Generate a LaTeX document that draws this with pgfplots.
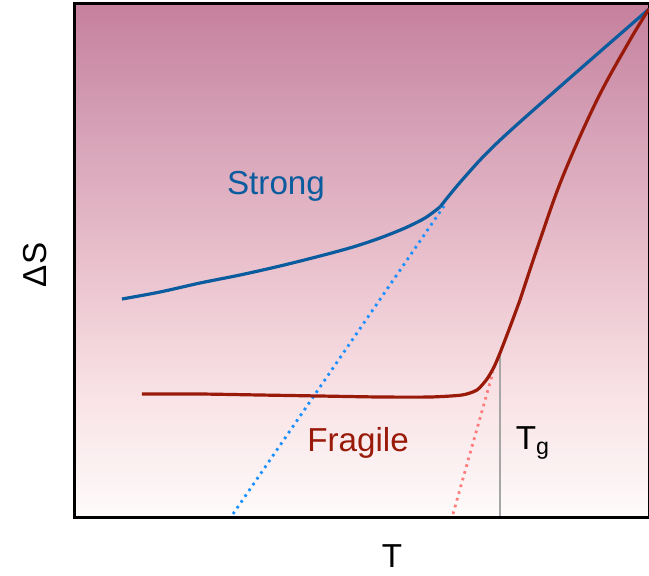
\documentclass[border=0pt]{standalone}
\usepackage{pgfplots}
\pgfplotsset{compat=1.18}
\usepackage{fontspec}
\setmainfont{Liberation Sans}
\definecolor{strongblue}{HTML}{0B5C9E}
\definecolor{dotblue}{HTML}{1A90FF}
\definecolor{fragred}{HTML}{9A1A0A}
\definecolor{dotred}{HTML}{FF7B7B}
\definecolor{bgtop}{HTML}{C5809D}
\definecolor{bgc1}{HTML}{D6A2B7}
\definecolor{bgc2}{HTML}{E9C0CC}
\definecolor{bgc3}{HTML}{F8E1E5}
\definecolor{bgbot}{HTML}{FEFBFA}
\pgfdeclareverticalshading{bgshade}{100bp}{color(0bp)=(bgbot); color(25bp)=(bgbot); color(37.5bp)=(bgc3); color(50bp)=(bgc2); color(62.5bp)=(bgc1); color(75bp)=(bgtop); color(100bp)=(bgtop)}
\begin{document}
\begin{tikzpicture}
\begin{axis}[
  x=0.5pt, y=0.5pt,
  scale only axis,
  xmin=75, xmax=649, ymin=3, ymax=517,
  y dir=reverse,
  axis line style={line width=1.5pt},
  ticks=none,
  clip=false,
  axis background/.style={shading=bgshade},
]
\coordinate (bl) at (axis cs:0,575);
\coordinate (tr) at (axis cs:649,0);
% dotted extrapolations
\addplot[dotblue, line width=1.4pt, dash pattern=on 1.3pt off 2.2pt] coordinates {(233,514) (444,206)};
\addplot[dotred, line width=1.4pt, dash pattern=on 1.3pt off 2.2pt] coordinates {(453,514) (493,372)};
% Tg line
\addplot[gray!70, line width=0.6pt] coordinates {(500,355) (500,516)};
% strong
\addplot[strongblue, line width=1.6pt, smooth, tension=0.5] coordinates {
(122,299) (160,292) (200,283) (240,275) (280,266) (320,256) (353,247) (380,238) (405,228) (425,218) (440,207)};
\addplot[strongblue, line width=1.6pt, smooth, tension=0.6] coordinates {
(440,207) (463,179) (497,143) (563,84) (649,9)};
% fragile
\addplot[fragred, line width=1.6pt, smooth, tension=0.4] coordinates {
(142,394) (200,394) (260,395) (320,396) (380,397) (430,397) (462,395) (477,390) (487,379) (494,367) (500,353) (510,327) (520,300)};
\addplot[fragred, line width=1.6pt, smooth, tension=0.6] coordinates {
(520,300) (540,240) (563,176) (597,100) (630,40) (649,9)};
\node[strongblue, font=\fontsize{16.6}{18}\selectfont] at (axis cs:276,186) {Strong};
\node[fragred, font=\fontsize{16.6}{18}\selectfont] at (axis cs:358,443) {Fragile};
\node[black, font=\fontsize{16.6}{18}\selectfont] at (axis cs:533,443) {T\textsubscript{g}};
\node[black, rotate=90, font=\fontsize{16.6}{18}\selectfont] at (axis cs:35,265) {ΔS};
\node[black, font=\fontsize{16.6}{18}\selectfont] at (axis cs:392,556) {T};
\end{axis}
\pgfresetboundingbox
\useasboundingbox (bl) rectangle (tr);
\end{tikzpicture}
\end{document}
